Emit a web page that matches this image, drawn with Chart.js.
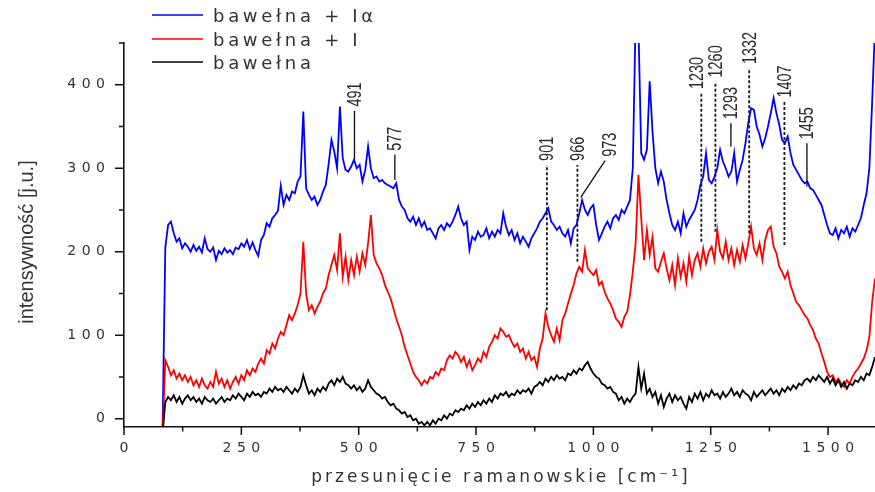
<!DOCTYPE html>
<html lang="pl">
<head>
<meta charset="UTF-8">
<title>Widma ramanowskie – bawełna</title>
<script src="https://cdn.jsdelivr.net/npm/chart.js"></script>
<style>
  body { margin: 0; background: #fff; }
  #wrap { position: relative; width: 875px; height: 492px; }
</style>
</head>
<body>
<div id="wrap"><canvas id="raman"></canvas></div>
<script>
// widma zbierane co 6 cm-1, od 82 cm-1 do 1600 cm-1 (10 punktów w wierszu)
const shiftStart = 82;
const shiftStep = 6;

const bawelnaIa = [
  -20, 205, 232, 236, 222, 212, 216, 204, 210, 206,
  200, 208, 201, 206, 199, 216, 203, 200, 205, 190,
  201, 197, 204, 199, 202, 197, 205, 203, 210, 206,
  214, 203, 211, 202, 195, 214, 220, 234, 230, 240,
  244, 249, 279, 256, 268, 262, 272, 270, 284, 290,
  368, 276, 268, 262, 266, 256, 262, 272, 280, 305,
  334, 320, 300, 374, 312, 298, 296, 302, 310, 300,
  304, 284, 298, 326, 300, 288, 290, 284, 286, 282,
  280, 278, 276, 282, 262, 254, 250, 240, 236, 242,
  232, 240, 230, 236, 226, 228, 222, 216, 228, 232,
  226, 234, 230, 236, 244, 254, 240, 232, 236, 202,
  218, 214, 224, 218, 220, 228, 216, 224, 218, 226,
  222, 246, 230, 220, 226, 214, 222, 210, 218, 212,
  206, 216, 222, 228, 236, 240, 246, 252, 236, 232,
  226, 230, 222, 218, 226, 210, 228, 232, 246, 262,
  250, 244, 252, 256, 232, 214, 222, 230, 236, 228,
  240, 244, 238, 250, 246, 254, 262, 300, 480, 470,
  318, 310, 322, 404, 344, 300, 282, 296, 284, 262,
  246, 232, 226, 236, 222, 246, 230, 238, 244, 250,
  262, 280, 290, 318, 286, 282, 290, 300, 322, 308,
  300, 290, 296, 318, 284, 298, 310, 330, 354, 372,
  370, 350, 340, 326, 336, 350, 366, 384, 366, 352,
  334, 330, 338, 318, 304, 298, 292, 286, 282, 284,
  276, 274, 268, 262, 256, 244, 232, 222, 220, 228,
  216, 226, 222, 230, 218, 228, 224, 232, 240, 256,
  270, 300, 380, 470
];

const bawelnaI = [
  -20, 70, 62, 52, 58, 48, 54, 46, 52, 44,
  50, 40, 46, 38, 48, 40, 36, 44, 38, 56,
  42, 48, 38, 46, 36, 44, 50, 42, 52, 46,
  58, 52, 60, 56, 66, 72, 66, 82, 78, 90,
  84, 96, 104, 100, 112, 124, 118, 126, 136, 150,
  212, 150, 130, 136, 126, 134, 140, 150, 156, 172,
  184, 196, 178, 222, 170, 194, 166, 190, 172, 194,
  176, 198, 184, 210, 244, 196, 186, 180, 172, 160,
  152, 144, 132, 120, 110, 100, 86, 76, 66, 56,
  50, 46, 40, 46, 42, 50, 48, 56, 52, 60,
  58, 70, 76, 72, 80, 76, 68, 74, 62, 70,
  58, 64, 72, 68, 80, 74, 86, 92, 100, 96,
  108, 104, 98, 100, 92, 86, 90, 80, 84, 72,
  80, 70, 74, 62, 84, 96, 126, 110, 100, 92,
  108, 94, 118, 126, 138, 150, 160, 174, 182, 176,
  202, 180, 176, 172, 178, 160, 164, 152, 144, 138,
  130, 120, 116, 110, 122, 128, 148, 176, 210, 292,
  240, 190, 226, 196, 218, 180, 176, 188, 198, 180,
  166, 184, 160, 192, 170, 186, 164, 194, 172, 190,
  198, 182, 204, 186, 200, 206, 190, 226, 200, 192,
  212, 190, 204, 184, 202, 188, 208, 192, 210, 230,
  204, 196, 210, 190, 214, 226, 230, 206, 198, 182,
  176, 168, 176, 160, 150, 140, 136, 130, 124, 120,
  112, 106, 96, 90, 78, 68, 56, 50, 52, 44,
  48, 42, 38, 46, 42, 50, 56, 60, 66, 72,
  82, 98, 140, 168
];

const bawelna = [
  -20, 20, 26, 22, 28, 20, 26, 18, 24, 28,
  22, 26, 20, 24, 18, 26, 22, 20, 24, 18,
  22, 26, 20, 24, 22, 28, 24, 30, 26, 22,
  30, 26, 32, 28, 30, 26, 32, 30, 36, 32,
  38, 34, 36, 32, 38, 34, 30, 36, 32, 38,
  52, 40, 30, 34, 28, 36, 32, 38, 34, 42,
  46, 40, 48, 44, 50, 42, 40, 36, 40, 34,
  38, 32, 36, 46, 38, 34, 30, 28, 24, 26,
  20, 16, 18, 12, 10, 6, 8, 2, 4, -2,
  0, -6, -4, -8, -4, -8, -2, -6, 0, -2,
  4, 0, 6, 4, 10, 8, 12, 10, 16, 12,
  18, 14, 20, 16, 22, 18, 24, 20, 28, 24,
  30, 28, 32, 26, 30, 28, 34, 30, 34, 32,
  36, 30, 38, 40, 44, 40, 48, 44, 50, 46,
  52, 48, 50, 46, 54, 52, 58, 54, 60, 58,
  64, 68, 60, 54, 50, 48, 42, 40, 36, 38,
  32, 30, 22, 26, 18, 24, 20, 26, 30, 62,
  36, 54, 30, 36, 26, 32, 18, 28, 14, 24,
  30, 20, 28, 22, 26, 18, 12, 26, 20, 30,
  24, 32, 22, 30, 26, 34, 28, 30, 24, 32,
  26, 30, 36, 28, 32, 26, 34, 30, 28, 22,
  32, 26, 30, 34, 28, 32, 36, 30, 34, 28,
  36, 32, 38, 34, 40, 36, 42, 40, 46, 48,
  44, 50, 46, 52, 48, 44, 50, 42, 48, 40,
  46, 38, 44, 36, 42, 40, 46, 44, 50, 46,
  54, 52, 62, 74
];

const seriesNames = ['bawełna + Iα', 'bawełna + I', 'bawełna'];
const seriesColors = ['#0000ff', '#ff0000', '#000000'];

const xTicks = [0, 250, 500, 750, 1000, 1250, 1500];
const xMinorTicks = [125, 375, 625, 875, 1125, 1375];
const yTicks = [0, 100, 200, 300, 400];
const yMinorTicks = [50, 150, 250, 350, 450];

// opisane pasma: położenie [cm-1] i zakres kreski wskaźnika [j.u.]
const peakShifts = [491, 577, 901, 966, 973, 1230, 1260, 1293, 1332, 1407, 1455];
const peakLineBottom = [310, 286, 130, 188, 265, 212, 224, 326, 222, 208, 278];
const peakLineTop = [369, 316, 304, 304, 309, 390, 404, 354, 420, 380, 330];
const peakDotted = [false, false, true, true, false, true, true, false, true, true, false];
// 973 ma odsunięty opis połączony ukośną kreską
const peakTopX = [491, 577, 901, 966, 1025, 1230, 1260, 1293, 1332, 1407, 1455];
const peakLabelX = [491, 577, 901, 966, 1034, 1220, 1260, 1293, 1332, 1407, 1455];

const wavenumbers = bawelna.map((_, i) => shiftStart + i * shiftStep);
const toPoints = arr => arr.map((v, i) => ({ x: wavenumbers[i], y: v }));

const textColor = '#333';

// tekst rozstrzelony, rysowany znak po znaku
function spacedText(ctx, text, x, y, spacing, align) {
  const chars = [...text];
  const widths = chars.map(c => ctx.measureText(c).width);
  const total = widths.reduce((s, w) => s + w, 0) + spacing * (chars.length - 1);
  let cx = align === 'center' ? x - total / 2 : align === 'right' ? x - total : x;
  ctx.textAlign = 'left';
  chars.forEach((c, i) => {
    ctx.fillText(c, cx, y);
    cx += widths[i] + spacing;
  });
}

// kreski opisanych pasm
const peakMarks = {
  id: 'peakMarks',
  afterDatasetsDraw(chart) {
    const { ctx, scales: { x, y } } = chart;
    ctx.save();
    ctx.strokeStyle = '#1a1a1a';
    ctx.fillStyle = '#2a2a2a';
    peakShifts.forEach((shift, i) => {
      const x0 = x.getPixelForValue(shift);
      const y0 = y.getPixelForValue(peakLineBottom[i]);
      const x1 = x.getPixelForValue(peakTopX[i]);
      const y1 = y.getPixelForValue(peakLineTop[i]);
      ctx.beginPath();
      ctx.lineWidth = peakDotted[i] ? 1.8 : 1.4;
      ctx.setLineDash(peakDotted[i] ? [3, 2] : []);
      ctx.moveTo(x0, y0);
      ctx.lineTo(x1, y1);
      ctx.stroke();
      ctx.setLineDash([]);

      ctx.save();
      ctx.translate(x.getPixelForValue(peakLabelX[i]), y1 - 4);
      ctx.rotate(-Math.PI / 2);
      ctx.scale(0.72, 1);
      ctx.font = "20px 'Liberation Sans', Arial, sans-serif";
      ctx.textAlign = 'left';
      ctx.textBaseline = 'middle';
      ctx.fillText(String(shift), 0, 1);
      ctx.restore();
    });
    ctx.restore();
  }
};

// znaczniki i opisy osi, legenda
const frame = {
  id: 'frame',
  afterDraw(chart) {
    const { ctx, chartArea: a, scales: { x, y } } = chart;
    ctx.save();
    ctx.strokeStyle = '#111';
    ctx.lineWidth = 1.5;
    ctx.beginPath();
    xTicks.forEach(v => {
      const px = x.getPixelForValue(v);
      ctx.moveTo(px, a.bottom); ctx.lineTo(px, a.bottom + 8);
    });
    xMinorTicks.forEach(v => {
      const px = x.getPixelForValue(v);
      ctx.moveTo(px, a.bottom); ctx.lineTo(px, a.bottom + 4.5);
    });
    yTicks.forEach(v => {
      const py = y.getPixelForValue(v);
      ctx.moveTo(a.left, py); ctx.lineTo(a.left - 9, py);
    });
    yMinorTicks.forEach(v => {
      const py = y.getPixelForValue(v);
      ctx.moveTo(a.left, py); ctx.lineTo(a.left - 5, py);
    });
    ctx.stroke();

    ctx.fillStyle = textColor;
    ctx.textBaseline = 'middle';
    ctx.font = "14px 'DejaVu Sans', sans-serif";
    xTicks.forEach(v => spacedText(ctx, String(v), x.getPixelForValue(v), a.bottom + 21, 5.5, 'center'));
    yTicks.forEach(v => spacedText(ctx, String(v), a.left - 19, y.getPixelForValue(v), 5.5, 'right'));

    // tytuł osi X
    ctx.font = "17px 'DejaVu Sans', sans-serif";
    spacedText(ctx, 'przesunięcie ramanowskie [cm⁻¹]', (a.left + a.right) / 2, a.bottom + 51, 3, 'center');

    // tytuł osi Y
    ctx.save();
    ctx.translate(33, 242);
    ctx.rotate(-Math.PI / 2);
    ctx.font = "20px 'Liberation Sans', Arial, sans-serif";
    ctx.textAlign = 'center';
    ctx.textBaseline = 'alphabetic';
    ctx.fillText('intensywność [j.u.]', 0, 0);
    ctx.restore();

    // legenda
    const rows = [15, 39, 62];
    ctx.font = "18px 'DejaVu Sans', sans-serif";
    ctx.textBaseline = 'middle';
    seriesNames.forEach((name, i) => {
      ctx.beginPath();
      ctx.strokeStyle = seriesColors[i];
      ctx.lineWidth = 1.4;
      ctx.moveTo(152, rows[i]);
      ctx.lineTo(203, rows[i]);
      ctx.stroke();
      spacedText(ctx, name, 213, rows[i] + 2, 3.7, 'left');
    });
    ctx.restore();
  }
};

new Chart(document.getElementById('raman'), {
  type: 'line',
  data: {
    datasets: [bawelnaIa, bawelnaI, bawelna].map((arr, i) => ({
      label: seriesNames[i],
      data: toPoints(arr),
      borderColor: seriesColors[i],
      borderWidth: 1.8,
      pointRadius: 0,
      tension: 0,
      order: 3 - i
    }))
  },
  options: {
    responsive: true,
    maintainAspectRatio: false,
    animation: false,
    layout: { padding: { top: 43, right: 0, bottom: 0, left: 0 } },
    plugins: { legend: { display: false }, tooltip: { enabled: false } },
    scales: {
      x: {
        type: 'linear',
        min: 0,
        max: 1600,
        afterFit: s => { s.height = 65; },
        grid: { drawOnChartArea: false, drawTicks: false },
        border: { color: '#111', width: 1.6 },
        ticks: { display: false }
      },
      y: {
        min: -10,
        max: 450,
        afterFit: s => { s.width = 124; },
        grid: { drawOnChartArea: false, drawTicks: false },
        border: { color: '#111', width: 1.6 },
        ticks: { display: false }
      }
    }
  },
  plugins: [peakMarks, frame]
});
</script>
</body>
</html>
